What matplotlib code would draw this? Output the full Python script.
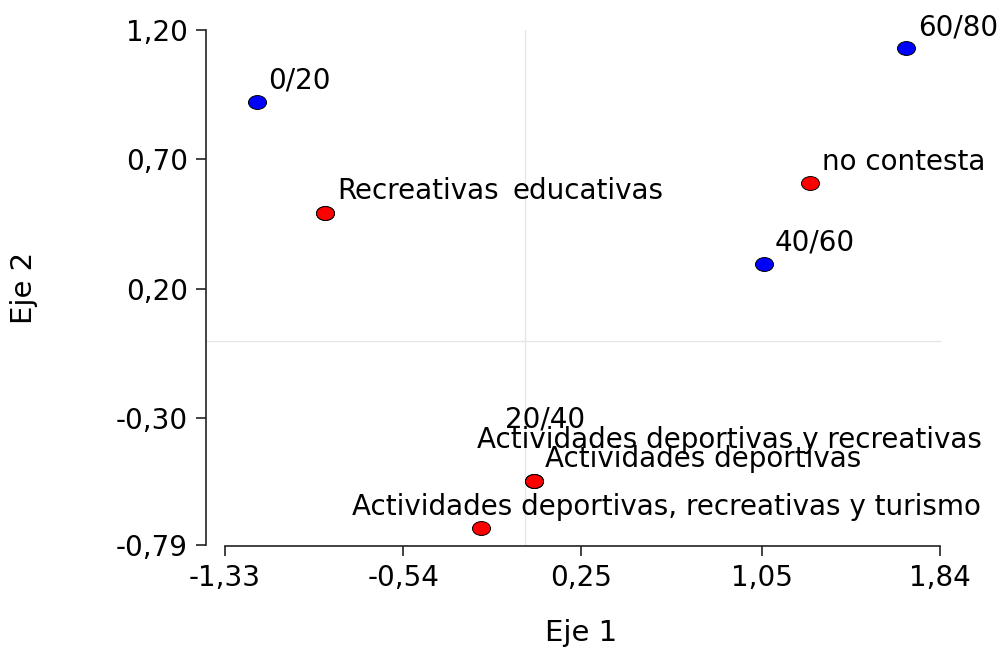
import matplotlib
matplotlib.use("Agg")
import matplotlib.pyplot as plt
from matplotlib.path import Path
from matplotlib.transforms import Affine2D

# Category points (Eje 1, Eje 2)
edad_labels = ["0/20", "20/40", "40/60", "60/80"]
edad_x = [-1.186, 0.040, 1.060, 1.689]
edad_y = [0.922, -0.543, 0.296, 1.130]

act_labels = ["Recreativas", "educativas", "no contesta", "Actividades deportivas",
              "Actividades deportivas y recreativas",
              "Actividades deportivas, recreativas y turismo"]
act_x = [-0.887, -0.887, 1.264, 0.040, 0.040, -0.195]
act_y = [0.493, 0.493, 0.609, -0.543, -0.543, -0.724]

xticks = [-1.33, -0.54, 0.25, 1.05, 1.84]
yticks = [1.20, 0.70, 0.20, -0.30, -0.79]

# label offsets in pixels (placement only)
edad_off = [(11, 13), (-29, 54), (11, 13), (12, 13)]
act_off = [(12, 14), (188, 14), (12, 13), (11, 14), (-57, 33), (-129, 13)]

plt.rcParams['font.family'] = ['DejaVu Sans']

W, H = 1001, 647
fig = plt.figure(figsize=(W / 100, H / 100), dpi=100)
ax = fig.add_axes([225 / W, 1 - 545 / H, 715 / W, 515 / H])

ellipse = Path.unit_circle().transformed(Affine2D().scale(1.3, 1.0))

ax.axvline(0, color='#e6e6e6', lw=1, zorder=0)
ax.axhline(0, xmin=-19 / 715, xmax=1, color='#e6e6e6', lw=1, zorder=0, clip_on=False)

ax.plot(edad_x, edad_y, linestyle='none', marker=ellipse, markersize=13,
        markerfacecolor='#0000ff', markeredgecolor='black', markeredgewidth=0.7,
        clip_on=False, zorder=3)
ax.plot(act_x, act_y, linestyle='none', marker=ellipse, markersize=13,
        markerfacecolor='#ff0000', markeredgecolor='black', markeredgewidth=0.7,
        clip_on=False, zorder=4)

for lab, x, y, off in zip(edad_labels, edad_x, edad_y, edad_off):
    ax.annotate(lab, (x, y), xytext=off, textcoords='offset pixels',
                ha='left', va='baseline', fontsize=20, annotation_clip=False)
for lab, x, y, off in zip(act_labels, act_x, act_y, act_off):
    ax.annotate(lab, (x, y), xytext=off, textcoords='offset pixels',
                ha='left', va='baseline', fontsize=20, annotation_clip=False)

ax.set_xlim(-1.33, 1.84)
ax.set_ylim(-0.79, 1.20)
ax.set_xticks(xticks)
ax.set_xticklabels([f"{v:.2f}".replace('.', ',') for v in xticks])
ax.set_yticks(yticks)
ax.set_yticklabels([f"{v:.2f}".replace('.', ',') for v in yticks])

for s in ['top', 'right']:
    ax.spines[s].set_visible(False)
ax.spines['left'].set_position(('outward', 13.7))
ax.spines['bottom'].set_position(('outward', 0.5))
for s in ['left', 'bottom']:
    ax.spines[s].set_linewidth(1.2)
    ax.spines[s].set_color('#222222')
ax.tick_params(axis='both', length=7, width=1.2, color='#222222', labelsize=20, pad=6)

fig.text(581 / W, 1 - 641 / H, "Eje 1", fontsize=21, ha='center', va='baseline')
fig.text(24 / W, 1 - 288 / H, "Eje 2", fontsize=21, ha='center', va='center', rotation=90)

fig.savefig("out.png", dpi=100)
